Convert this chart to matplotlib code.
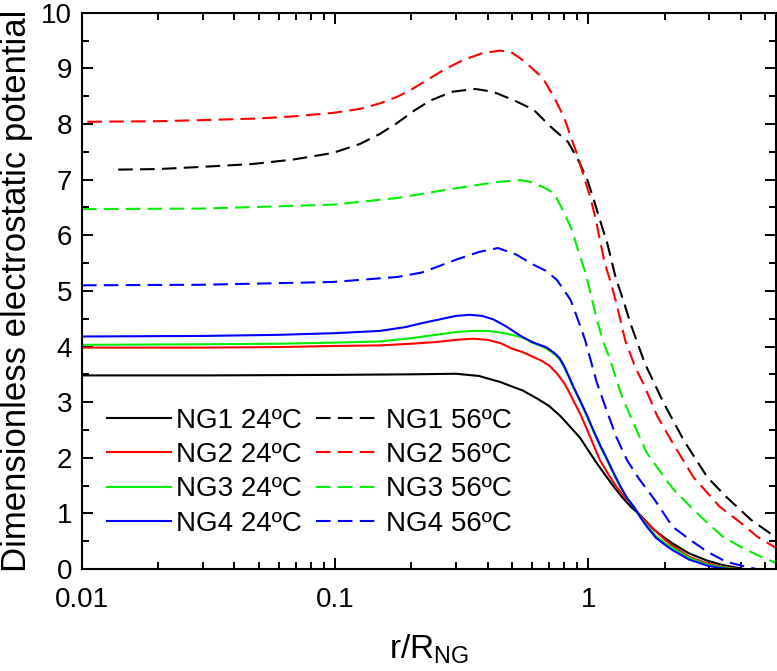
import numpy as np
import matplotlib
matplotlib.use('Agg')
import matplotlib.pyplot as plt
from matplotlib.ticker import LogLocator, FormatStrFormatter, MultipleLocator, NullFormatter

plt.rcParams['font.family'] = ['Liberation Sans', 'DejaVu Sans']
plt.rcParams['mathtext.default'] = 'regular'

# NG1..NG4 at 24 C (solid)
x_ng1_24 = [0.01, 0.03, 0.1, 0.2, 0.3, 0.37, 0.45, 0.5, 0.55, 0.63, 0.7, 0.775, 0.85, 0.93, 0.99, 1.08,
            1.17, 1.26, 1.36, 1.47, 1.61, 1.8, 2.0, 2.15, 2.5, 2.95, 3.4, 3.7, 4.1]
y_ng1_24 = [3.48, 3.48, 3.49, 3.50, 3.51, 3.47, 3.36, 3.28, 3.21, 3.06, 2.93, 2.75, 2.55, 2.35, 2.16, 1.90,
            1.68, 1.48, 1.29, 1.12, 0.96, 0.72, 0.56, 0.46, 0.28, 0.15, 0.07, 0.04, 0.0]

x_ng2_24 = [0.01, 0.03, 0.06, 0.1, 0.15, 0.2, 0.25, 0.3, 0.35, 0.4, 0.45, 0.5, 0.55, 0.6, 0.65, 0.7, 0.75,
            0.8, 0.84, 0.87, 0.93, 0.99, 1.05, 1.11, 1.2, 1.29, 1.4, 1.51, 1.61, 1.77, 2.0, 2.15, 2.5, 2.95,
            3.4, 3.9]
y_ng2_24 = [3.98, 3.98, 3.99, 4.01, 4.02, 4.05, 4.08, 4.12, 4.14, 4.12, 4.06, 3.96, 3.90, 3.82, 3.75, 3.66,
            3.52, 3.35, 3.18, 3.04, 2.78, 2.50, 2.22, 1.96, 1.70, 1.48, 1.28, 1.12, 0.95, 0.76, 0.53, 0.42,
            0.22, 0.10, 0.04, 0.0]

x_ng3_24 = [0.01, 0.03, 0.06, 0.1, 0.15, 0.2, 0.25, 0.3, 0.35, 0.4, 0.45, 0.5, 0.55, 0.6, 0.65, 0.68, 0.71,
            0.74, 0.77, 0.8, 0.84, 0.87, 0.93, 0.99, 1.05, 1.12, 1.19, 1.26, 1.34, 1.42, 1.51, 1.61, 1.71,
            1.85, 2.0, 2.15, 2.5, 2.95, 3.4, 3.8]
y_ng3_24 = [4.03, 4.04, 4.05, 4.07, 4.09, 4.15, 4.21, 4.26, 4.28, 4.28, 4.25, 4.21, 4.16, 4.07, 4.01, 3.97,
            3.91, 3.85, 3.77, 3.64, 3.44, 3.27, 3.00, 2.73, 2.46, 2.18, 1.94, 1.70, 1.47, 1.28, 1.12, 0.93,
            0.77, 0.59, 0.47, 0.38, 0.20, 0.08, 0.03, 0.0]

x_ng4_24 = [0.01, 0.03, 0.06, 0.1, 0.15, 0.19, 0.22, 0.26, 0.3, 0.34, 0.38, 0.42, 0.47, 0.52, 0.55, 0.6,
            0.65, 0.68, 0.71, 0.74, 0.77, 0.8, 0.84, 0.87, 0.93, 0.99, 1.05, 1.12, 1.19, 1.26, 1.34, 1.42,
            1.51, 1.61, 1.71, 1.85, 2.0, 2.15, 2.5, 2.95, 3.3, 3.6]
y_ng4_24 = [4.18, 4.19, 4.21, 4.24, 4.28, 4.35, 4.42, 4.49, 4.55, 4.57, 4.55, 4.49, 4.37, 4.24, 4.17, 4.08,
            4.02, 3.99, 3.93, 3.87, 3.79, 3.66, 3.45, 3.29, 3.02, 2.75, 2.48, 2.20, 1.96, 1.72, 1.48, 1.28,
            1.12, 0.92, 0.75, 0.56, 0.44, 0.34, 0.17, 0.06, 0.02, 0.0]

# NG1..NG4 at 56 C (dashed)
x_ng1_56 = [0.0139, 0.02, 0.03, 0.047, 0.068, 0.098, 0.125, 0.15, 0.176, 0.205, 0.237, 0.29, 0.357, 0.42,
            0.506, 0.607, 0.71, 0.83, 0.91, 0.99, 1.05, 1.11, 1.19, 1.28, 1.38, 1.47, 1.67, 1.98, 2.39, 2.95,
            3.5, 4.4, 5.5]
y_ng1_56 = [7.18, 7.19, 7.23, 7.28, 7.36, 7.48, 7.64, 7.82, 8.02, 8.24, 8.42, 8.58, 8.63, 8.58,
            8.43, 8.26, 7.95, 7.68, 7.36, 7.00, 6.64, 6.28, 5.84, 5.25, 4.80, 4.40, 3.70, 2.99, 2.30, 1.65,
            1.30, 0.88, 0.57]

x_ng2_56 = [0.0105, 0.02, 0.03, 0.05, 0.07, 0.098, 0.125, 0.15, 0.176, 0.2, 0.223, 0.27, 0.32, 0.38, 0.449,
            0.5, 0.55, 0.66, 0.73, 0.80, 0.86, 0.91, 0.96, 1.02, 1.07, 1.11, 1.16, 1.22, 1.29, 1.40, 1.53,
            1.65, 1.87, 2.15, 2.6, 3.3, 4.0, 4.65, 5.5]
y_ng2_56 = [8.04, 8.05, 8.07, 8.10, 8.14, 8.20, 8.27, 8.37, 8.49, 8.62, 8.75, 8.98, 9.15, 9.27, 9.32,
            9.28, 9.15, 8.83, 8.49, 8.13, 7.72, 7.41, 7.05, 6.67, 6.28, 5.92, 5.50, 5.18, 4.78, 4.10, 3.63,
            3.33, 2.75, 2.27, 1.65, 1.12, 0.83, 0.58, 0.38]

x_ng3_56 = [0.01, 0.03, 0.098, 0.176, 0.277, 0.36, 0.44, 0.54, 0.59, 0.66, 0.73, 0.80, 0.86, 0.91, 0.97,
            1.02, 1.08, 1.15, 1.22, 1.34, 1.47, 1.70, 1.93, 2.15, 2.53, 2.95, 3.4, 3.99, 4.65, 5.5]
y_ng3_56 = [6.47, 6.48, 6.55, 6.67, 6.82, 6.90, 6.96, 6.99, 6.96, 6.87, 6.76, 6.42, 6.10, 5.74, 5.35,
            4.96, 4.48, 4.06, 3.76, 3.17, 2.73, 2.09, 1.74, 1.45, 1.12, 0.83, 0.58, 0.40, 0.25, 0.11]

x_ng4_56 = [0.01, 0.03, 0.098, 0.176, 0.22, 0.30, 0.37, 0.44, 0.52, 0.607, 0.68, 0.75, 0.85, 0.91, 0.97,
            1.02, 1.08, 1.19, 1.29, 1.42, 1.58, 1.83, 2.15, 2.53, 2.95, 3.5, 4.2, 4.6]
y_ng4_56 = [5.10, 5.11, 5.16, 5.25, 5.33, 5.56, 5.70, 5.77, 5.65, 5.47, 5.36, 5.20, 4.84, 4.48, 4.12,
            3.76, 3.35, 2.81, 2.37, 1.96, 1.63, 1.24, 0.76, 0.52, 0.31, 0.13, 0.04, 0.0]

labels_24 = ['NG1 24ºC', 'NG2 24ºC', 'NG3 24ºC', 'NG4 24ºC']
labels_56 = ['NG1 56ºC', 'NG2 56ºC', 'NG3 56ºC', 'NG4 56ºC']
colors = ['black', '#ff0000', '#00ee00', '#0000ff']

series_24 = [(x_ng1_24, y_ng1_24), (x_ng2_24, y_ng2_24), (x_ng3_24, y_ng3_24), (x_ng4_24, y_ng4_24)]
series_56 = [(x_ng1_56, y_ng1_56), (x_ng2_56, y_ng2_56), (x_ng3_56, y_ng3_56), (x_ng4_56, y_ng4_56)]

fig = plt.figure(figsize=(7.77, 6.71), dpi=100)
ax = fig.add_axes([0.1055, 0.152, 0.893, 0.829])

for (xs, ys), lab, c in zip(series_24, labels_24, colors):
    ax.plot(xs, ys, color=c, lw=1.5, label=lab)
for (xs, ys), lab, c in zip(series_56, labels_56, colors):
    ax.plot(xs, ys, color=c, lw=1.5, ls=(0, (7, 3.5)), label=lab)

ax.set_xscale('log')
ax.set_xlim(0.01, 5.5)
ax.set_ylim(0, 10)
ax.xaxis.set_major_locator(LogLocator(base=10))
ax.xaxis.set_minor_locator(LogLocator(base=10, subs=np.arange(2, 10)))
ax.xaxis.set_major_formatter(FormatStrFormatter('%g'))
ax.xaxis.set_minor_formatter(NullFormatter())
ax.yaxis.set_major_locator(MultipleLocator(1))
ax.yaxis.set_minor_locator(MultipleLocator(0.5))

ax.tick_params(which='both', direction='in', top=True, right=True, width=1.4, labelsize=20)
ax.tick_params(which='major', length=8)
ax.tick_params(axis='x', which='major', pad=13)
ax.tick_params(axis='y', which='major', pad=7)
ax.tick_params(which='minor', length=5)
for sp in ax.spines.values():
    sp.set_linewidth(1.5)

ax.set_xlabel('r/R$_{NG}$', fontsize=24, labelpad=14)
ax.set_ylabel('Dimensionless electrostatic potential', fontsize=25, labelpad=6)

ax.legend(ncol=2, frameon=False, fontsize=20, loc='upper left', bbox_to_anchor=(0.0, 0.335),
          handlelength=2.3, handletextpad=0.2, columnspacing=0.5, labelspacing=0.3, borderpad=0.4)

fig.savefig('out.png', dpi=100)
